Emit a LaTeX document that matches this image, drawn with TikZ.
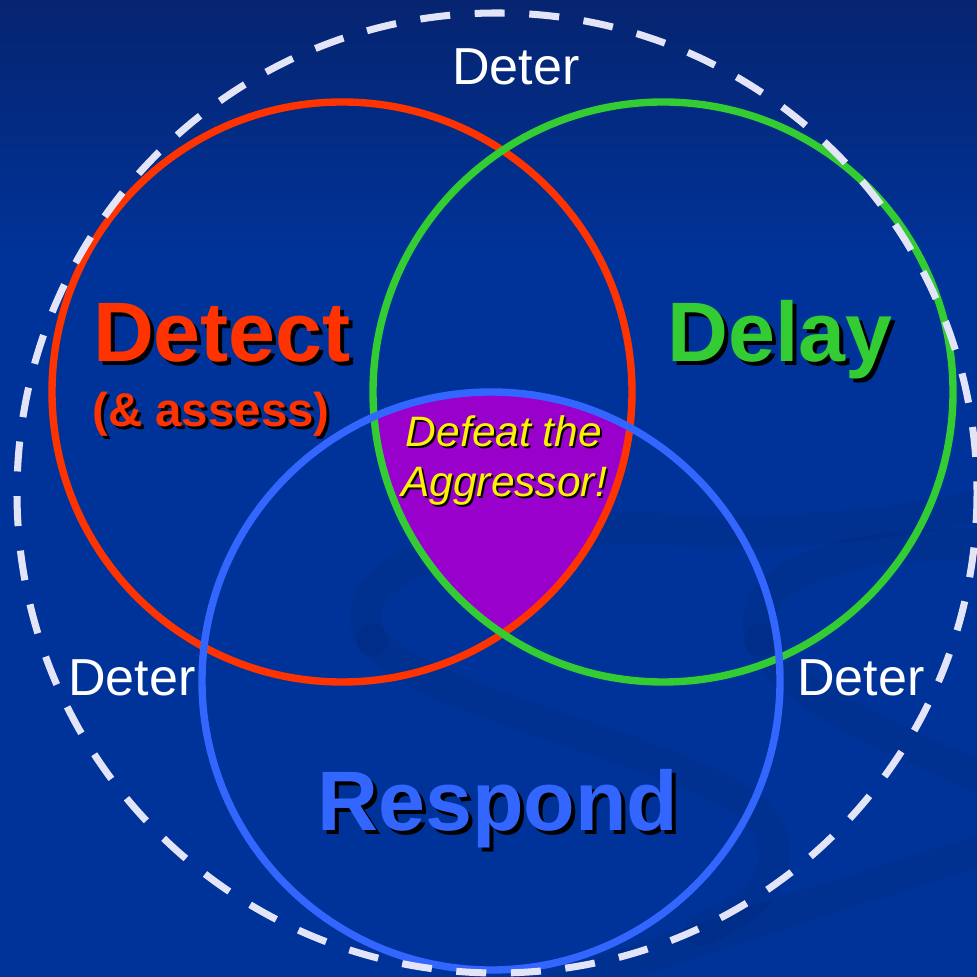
\documentclass[tikz,border=0pt]{standalone}
\usepackage{fontspec}
\setmainfont{Liberation Sans}
\usetikzlibrary{positioning}
\definecolor{bgblue}{HTML}{003399}
\definecolor{bgtop}{HTML}{062470}
\definecolor{swirl}{HTML}{00246E}
\definecolor{detred}{HTML}{FF3300}
\definecolor{delgreen}{HTML}{33CC33}
\definecolor{resblue}{HTML}{3366FF}
\definecolor{defpurple}{HTML}{9900CC}
\definecolor{deterwhite}{HTML}{E4E4F8}

\begin{document}
\begin{tikzpicture}[
		x=0.01cm, y=-0.01cm,
		ring/.style={line width=2.1pt},
		swirlband/.style={line width=9pt, swirl, opacity=0.2, line cap=round},
		bigword/.style={font=\bfseries\fontsize{24}{28}\selectfont, anchor=base, inner sep=0pt},
		smallword/.style={font=\bfseries\fontsize{13.5}{16}\selectfont, anchor=base, inner sep=0pt},
		centreword/.style={font=\itshape\fontsize{12.1}{14}\selectfont, anchor=base, inner sep=0pt},
		deterword/.style={font=\fontsize{14.8}{17}\selectfont, white, anchor=base, inner sep=0pt}]
	\useasboundingbox (0,0) rectangle (977,977);
	%% background
	\fill[bgblue] (0,0) rectangle (977,977);
	\shade[top color=bgtop, bottom color=bgblue] (0,0) rectangle (977,260);
	\draw[swirlband] (372,640) .. controls (330,560) and (500,520) .. (680,530) .. controls (820,538) and (930,515) .. (985,505);
	\draw[swirlband] (372,640) .. controls (420,700) and (640,740) .. (740,800) .. controls (800,840) and (780,900) .. (700,930);
	\draw[swirlband] (760,640) .. controls (740,570) and (860,540) .. (985,545);
	\draw[swirlband] (760,640) .. controls (790,700) and (900,740) .. (985,780);
	\draw[swirlband] (560,985) .. controls (700,940) and (850,890) .. (985,850);
	%% centres of the rings
	\coordinate (c-detect) at (342,392);
	\coordinate (c-delay) at (663,392);
	\coordinate (c-respond) at (491,681);
	\coordinate (c-deter) at (497,493);
	%% common part of all three
	\begin{scope}
		\clip (c-detect) circle (290);
		\clip (c-delay) circle (290);
		\fill[defpurple] (c-respond) circle (289);
	\end{scope}
	%% the three rings
	\draw[ring, detred] (c-detect) circle (290);
	\draw[ring, delgreen] (c-delay) circle (290);
	\draw[ring, resblue] (c-respond) circle (289);
	%% outer dashed ring
	\draw[line width=2pt, deterwhite, dash pattern=on 0.3cm off 0.246cm] (c-deter) circle (480);
	%% labels
	\node[bigword, black] (detect-s) at (226,366) {Detect};
	\node[bigword, detred] (detect) at (222,362) {Detect};
	\node[smallword, black] (assess-s) at (214,430) {(\& assess)};
	\node[smallword, detred] (assess) at (211,427) {(\& assess)};
	\node[bigword, black] (delay-s) at (784,366) {Delay};
	\node[bigword, delgreen] (delay) at (780,362) {Delay};
	\node[bigword, black] (respond-s) at (502,834) {Respond};
	\node[bigword, resblue] (respond) at (498,830) {Respond};
	\node[centreword, black] (defeat-s) at (506,449) {Defeat the};
	\node[centreword, yellow] (defeat) at (504,447) {Defeat the};
	\node[centreword, black] (aggressor-s) at (506,499) {Aggressor!};
	\node[centreword, yellow] (aggressor) at (504,497) {Aggressor!};
	\node[deterword] (deter-top) at (516,85) {Deter};
	\node[deterword] (deter-left) at (132,695) {Deter};
	\node[deterword] (deter-right) at (861,695) {Deter};
\end{tikzpicture}
\end{document}
